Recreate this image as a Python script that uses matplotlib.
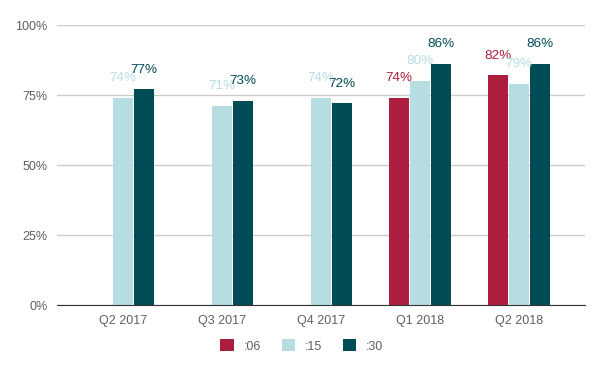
import numpy as np
import matplotlib
matplotlib.use("Agg")
import matplotlib.pyplot as plt
from matplotlib.patches import Patch

plt.rcParams["font.family"] = ["Liberation Sans", "DejaVu Sans"]

quarters = ["Q2 2017", "Q3 2017", "Q4 2017", "Q1 2018", "Q2 2018"]
series_names = [":06", ":15", ":30"]
vals_06 = [np.nan, np.nan, np.nan, 74, 82]
vals_15 = [74, 71, 74, 80, 79]
vals_30 = [77, 73, 72, 86, 86]
colors = ["#ad1e3e", "#b5dde2", "#004c56"]

fig = plt.figure(figsize=(6.04, 3.71), dpi=100)
ax = fig.add_axes([57 / 604, 66 / 371, 528 / 604, 280 / 371])

x = np.arange(len(quarters))
width = 0.202
step = 0.212
for i, (vals, col) in enumerate(zip([vals_06, vals_15, vals_30], colors)):
    pos = x + (i - 1) * step
    ax.bar(pos, vals, width=width, color=col, zorder=3)
    for px, v in zip(pos, vals):
        if np.isnan(v):
            continue
        ax.annotate(f"{v:.0f}%", (px, v), xytext=(0, 10), textcoords="offset points",
                    ha="center", va="bottom", color=col, fontsize=9.7, zorder=4)

ax.set_xlim(-0.667, 4.667)
ax.set_ylim(0, 100)
ax.set_yticks([0, 25, 50, 75, 100])
ax.set_yticklabels(["0%", "25%", "50%", "75%", "100%"])
ax.set_xticks(x)
ax.set_xticklabels(quarters)
ax.tick_params(axis="both", length=0, labelsize=9, labelcolor="#5f5f5f")
ax.tick_params(axis="y", pad=7)
ax.tick_params(axis="x", pad=7)
ax.grid(axis="y", color="#cccccc", linewidth=1, zorder=0)
for s in ["top", "right", "left"]:
    ax.spines[s].set_visible(False)
ax.spines["bottom"].set_color("#333333")
ax.spines["bottom"].set_zorder(5)

handles = [Patch(facecolor=c, edgecolor="none") for c in colors]
fig.legend(handles, series_names, loc="center", bbox_to_anchor=(0.5, 1 - 346 / 371),
           ncol=3, frameon=False, fontsize=9, handlelength=1.1, handleheight=1.1,
           columnspacing=1.6, handletextpad=0.8, labelcolor="#5f5f5f")

fig.savefig("out.png", dpi=100)
